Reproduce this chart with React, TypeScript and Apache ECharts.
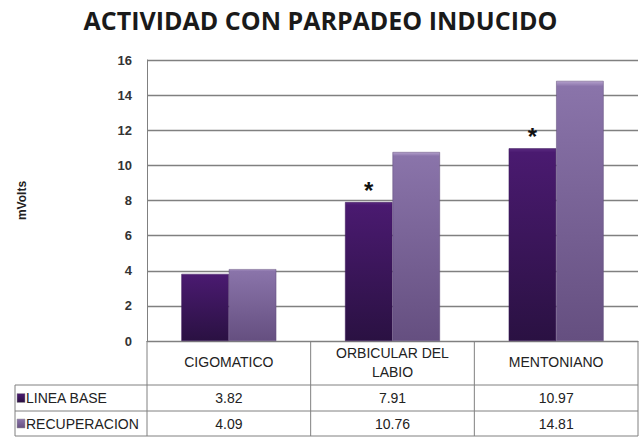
import React, { useEffect, useRef } from "react";
import * as echarts from "echarts";

const titleText = "ACTIVIDAD CON PARPADEO INDUCIDO";
const categories = ["CIGOMATICO", "ORBICULAR DEL\nLABIO", "MENTONIANO"];
const seriesNames = ["LINEA BASE", "RECUPERACION"];
const lineaBase = [3.82, 7.91, 10.97];
const recuperacion = [4.09, 10.76, 14.81];
const significant = [false, true, true];
const yTicks = [0, 2, 4, 6, 8, 10, 12, 14, 16];

const FONT = "'Liberation Sans', 'Noto Sans', sans-serif";
const TITLE_FONT = "'Open Sans', 'Liberation Sans', sans-serif";
const GRID_LEFT = 147;
const GRID_RIGHT_X = 638;
const TABLE_LEFT = 15;
const ROW1 = 385;
const ROW2 = 411;
const TABLE_BOTTOM = 436;

const darkGrad = () =>
  new echarts.graphic.LinearGradient(0, 0, 0, 1, [
    { offset: 0, color: "#5a2a80" },
    { offset: 0.02, color: "#4a1a70" },
    { offset: 1, color: "#2a1142" },
  ]);
const lightGrad = () =>
  new echarts.graphic.LinearGradient(0, 0, 0, 1, [
    { offset: 0, color: "#b4a0cc" },
    { offset: 0.02, color: "#8a74aa" },
    { offset: 1, color: "#654f80" },
  ]);

export default function App() {
  const ref = useRef<HTMLDivElement>(null);
  useEffect(() => {
    document.body.style.margin = "0";
    const chart = echarts.init(ref.current!, null, { renderer: "svg" });
    const option: any = {
      animation: false,
      backgroundColor: "#ffffff",
      title: {
        text: titleText,
        left: "center",
        top: 2,
        textStyle: { fontFamily: TITLE_FONT, fontSize: 25, fontWeight: "bold", color: "#1a1a1a" },
      },
      grid: { left: GRID_LEFT, right: 641 - GRID_RIGHT_X, top: 60, bottom: 96 },
      xAxis: {
        type: "category",
        data: categories,
        axisLine: { show: true, lineStyle: { color: "#808080", width: 1 } },
        axisTick: { show: false },
        axisLabel: {
          show: true,
          interval: 0,
          margin: 21,
          fontFamily: FONT,
          fontSize: 14,
          lineHeight: 19,
          color: "#222",
          verticalAlign: "middle",
        },
      },
      yAxis: {
        type: "value",
        min: 0,
        max: 16,
        interval: 2,
        name: "mVolts",
        nameLocation: "middle",
        nameRotate: 90,
        nameGap: 119,
        nameTextStyle: { fontFamily: FONT, fontSize: 12, fontWeight: "bold", color: "#222" },
        axisLine: { show: true, lineStyle: { color: "#808080", width: 1 } },
        axisTick: { show: false },
        axisLabel: {
          margin: 15,
          fontFamily: FONT,
          fontSize: 13,
          fontWeight: "bold",
          color: "#333",
          formatter: (v: number) => (yTicks.includes(v) ? String(v) : ""),
        },
        splitLine: { show: true, lineStyle: { color: "#808080", width: 1.3 } },
      },
      series: [
        {
          name: seriesNames[0],
          type: "bar",
          data: lineaBase,
          barGap: "0%",
          barCategoryGap: "42%",
          itemStyle: { color: darkGrad(), borderColor: "#3a1658", borderWidth: 0.5 },
          label: {
            show: true,
            position: "top",
            distance: 0,
            fontSize: 24,
            fontWeight: "bold",
            fontFamily: FONT,
            color: "#111",
            formatter: (p: any) => (significant[p.dataIndex] ? "*" : ""),
          },
        },
        {
          name: seriesNames[1],
          type: "bar",
          data: recuperacion,
          itemStyle: { color: lightGrad(), borderColor: "#5e4a78", borderWidth: 0.5 },
        },
      ],
    };
    chart.setOption(option);

    const axisY = chart.convertToPixel({ yAxisIndex: 0 }, 0) as number;
    const xs = categories.map((_, i) => chart.convertToPixel({ xAxisIndex: 0 }, i) as number);
    const colW = (GRID_RIGHT_X - GRID_LEFT) / categories.length;
    const lineStyle = { stroke: "#808080", lineWidth: 1 };
    const graphic: any[] = [];
    for (let k = 0; k <= categories.length; k++) {
      const x = GRID_LEFT + k * colW;
      graphic.push({ type: "line", shape: { x1: x, y1: axisY, x2: x, y2: TABLE_BOTTOM }, style: lineStyle });
    }
    graphic.push({ type: "line", shape: { x1: TABLE_LEFT, y1: ROW1, x2: TABLE_LEFT, y2: TABLE_BOTTOM }, style: lineStyle });
    [ROW1, ROW2, TABLE_BOTTOM].forEach((y) =>
      graphic.push({ type: "line", shape: { x1: TABLE_LEFT, y1: y, x2: GRID_RIGHT_X, y2: y }, style: lineStyle })
    );
    const rows = [lineaBase, recuperacion];
    const grads = [darkGrad(), lightGrad()];
    rows.forEach((vals, r) => {
      const top = r === 0 ? ROW1 : ROW2;
      const bottom = r === 0 ? ROW2 : TABLE_BOTTOM;
      const cy = (top + bottom) / 2;
      graphic.push({
        type: "rect",
        shape: { x: TABLE_LEFT + 2, y: cy - 4.5, width: 8, height: 9 },
        style: { fill: grads[r], stroke: "#999", lineWidth: 0.5 },
      });
      graphic.push({
        type: "text",
        x: TABLE_LEFT + 11,
        y: cy,
        style: {
          text: seriesNames[r],
          fontFamily: FONT,
          fontSize: 14,
          fill: "#222",
          verticalAlign: "middle",
          textAlign: "left",
        },
      });
      vals.forEach((v, i) => {
        graphic.push({
          type: "text",
          x: xs[i],
          y: cy,
          style: {
            text: v.toFixed(2),
            fontFamily: FONT,
            fontSize: 14,
            fill: "#222",
            verticalAlign: "middle",
            textAlign: "center",
          },
        });
      });
    });
    chart.setOption({ graphic });
    return () => chart.dispose();
  }, []);
  return <div ref={ref} style={{ width: 641, height: 437 }} />;
}
